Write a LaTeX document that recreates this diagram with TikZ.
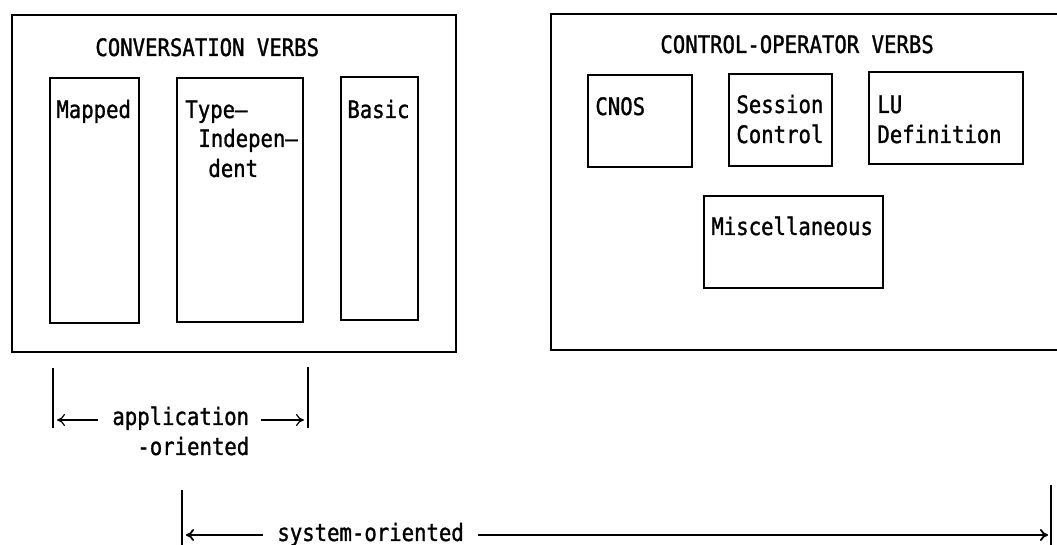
\documentclass[tikz,border=0pt]{standalone}
\usepackage{fontspec}
\newfontfamily\ibmfont[FakeStretch=0.86,FakeBold=1.2]{DejaVu Sans Mono}
\usetikzlibrary{arrows.meta}

\tikzset{
  box/.style={line width=1.1pt},
  lbl/.style={anchor=base west, inner sep=0pt, font=\ibmfont\fontsize{12}{15}\selectfont},
  arr/.style={-{To[length=4pt,width=6pt]}, line width=0.6pt},
  bar/.style={line width=0.8pt}
}

\begin{document}
\begin{tikzpicture}[x=0.5pt,y=-0.5pt]
\useasboundingbox (0,0) rectangle (1057,545);
% conversation verbs
\draw[box] (12,15) rectangle (456,352);
\node[lbl] (conv) at (95,56) {CONVERSATION VERBS};
\draw[box] (50,78) rectangle (139,323);
\draw[box] (177,78) rectangle (303,322);
\draw[box] (341,77) rectangle (418,320);
\node[lbl] (mapped) at (56,118) {Mapped};
\node[lbl] (type1) at (185,118) {Type–};
\node[lbl] (type2) at (198,147) {Indepen–};
\node[lbl] (type3) at (208,177) {dent};
\node[lbl] (basic) at (347,118) {Basic};
% control-operator verbs
\draw[box] (1057,14) -- (551,14) -- (551,350) -- (1057,350);
\node[lbl] (ctrl) at (660,53) {CONTROL-OPERATOR VERBS};
\draw[box] (588,75) rectangle (692,167);
\draw[box] (729,74) rectangle (832,166);
\draw[box] (869,72) rectangle (1023,164);
\draw[box] (704,196) rectangle (883,288);
\node[lbl] (cnos) at (595,115) {CNOS};
\node[lbl] (sess1) at (736,113) {Session};
\node[lbl] (sess2) at (736,143) {Control};
\node[lbl] (lu1) at (877,113) {LU};
\node[lbl] (lu2) at (877,143) {Definition};
\node[lbl] (misc) at (711,235) {Miscellaneous};
% application-oriented
\draw[bar] (53,368) -- (53,428);
\draw[bar] (308,367) -- (308,428);
\coordinate (appl) at (57,420);
\coordinate (appr) at (304,420);
\node[lbl] (app1) at (112,425) {application};
\node[lbl] (app2) at (137,455) {-oriented};
\draw[arr, shorten <=7pt] (app1.west |- appl) -- (appl);
\draw[arr, shorten <=6pt] (app1.east |- appr) -- (appr);
% system-oriented
\draw[bar] (182,490) -- (182,545);
\draw[bar] (1051,485) -- (1051,545);
\coordinate (sysl) at (186,535);
\coordinate (sysr) at (1048,535);
\node[lbl] (sys) at (277,541) {system-oriented};
\draw[arr, line width=0.9pt, shorten <=7pt] (sys.west |- sysl) -- (sysl);
\draw[arr, line width=0.9pt, shorten <=7pt] (sys.east |- sysr) -- (sysr);
\end{tikzpicture}
\end{document}
